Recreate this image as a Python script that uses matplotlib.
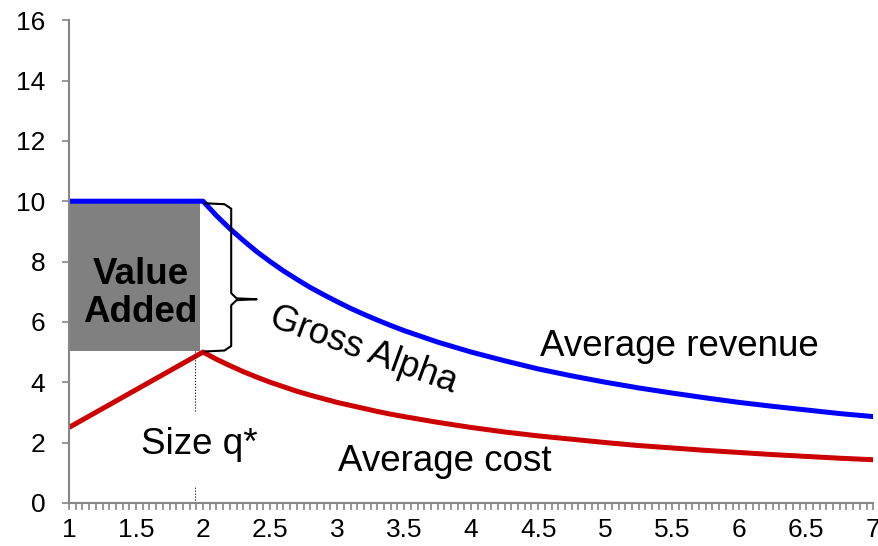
import numpy as np
import matplotlib.pyplot as plt
from matplotlib.patches import Rectangle
from matplotlib.ticker import MultipleLocator

plt.rcParams['font.family'] = ['Liberation Sans', 'DejaVu Sans']

# ── 資料 ──────────────────────────────────────────────────────────────
size = [1.0, 1.5, 2.0, 2.1, 2.2, 2.3, 2.4, 2.5, 2.6, 2.7, 2.8, 2.9, 3.0,
        3.1, 3.2, 3.3, 3.4, 3.5, 3.75, 4.0, 4.25, 4.5, 4.75, 5.0, 5.25,
        5.5, 5.75, 6.0, 6.25, 6.5, 6.75, 7.0]
avg_revenue = [10, 10, 10, 9.52, 9.09, 8.70, 8.33, 8.0, 7.69, 7.41, 7.14,
               6.90, 6.67, 6.45, 6.25, 6.06, 5.88, 5.71, 5.33, 5.0, 4.71,
               4.44, 4.21, 4.0, 3.81, 3.64, 3.48, 3.33, 3.2, 3.08, 2.96, 2.86]
avg_cost = [2.5, 3.75, 5.0, 4.76, 4.55, 4.35, 4.17, 4.0, 3.85, 3.70, 3.57,
            3.45, 3.33, 3.23, 3.13, 3.03, 2.94, 2.86, 2.67, 2.5, 2.35, 2.22,
            2.11, 2.0, 1.9, 1.82, 1.74, 1.67, 1.6, 1.54, 1.48, 1.43]
q_star = 1.94
va_left, va_right = 0.99, 1.98
va_low, va_high = 5.05, 10.0

fig = plt.figure(figsize=(8.79, 5.46), dpi=100)
ax = fig.add_axes([0.0785, 0.079, 0.915, 0.884])

# 灰色 Value Added 區塊
ax.add_patch(Rectangle((va_left, va_low), va_right - va_left, va_high - va_low,
                       facecolor='#808080', edgecolor='none', zorder=1))
ax.text(1.535, 6.95, 'Value\nAdded', ha='center', va='center', fontsize=26.5,
        fontweight='bold', linespacing=1.1, zorder=3)

ax.plot(size, avg_revenue, color='#0000FF', lw=3.6, solid_capstyle='round',
        solid_joinstyle='round', zorder=2)
ax.plot(size, avg_cost, color='#CC0000', lw=3.6, solid_capstyle='round',
        solid_joinstyle='round', zorder=2)

# q* 虛線
ax.plot([q_star, q_star], [va_low, 3.0], color='black', lw=0.8, ls=':')
ax.plot([q_star, q_star], [0, 0.55], color='black', lw=0.8, ls=':')

# Gross Alpha 大括號
bx, tip = 2.21, 6.75
ax.plot([2.02, 2.16, bx, bx, 2.25, 2.40, 2.25, bx, bx, 2.16, 2.02],
        [9.93, 9.9, 9.75, 6.95, 6.78, tip, 6.72, 6.55, 5.2, 5.05, 5.02],
        color='black', lw=1.5, zorder=2)

ax.text(3.2, 5.07, 'Gross Alpha', rotation=-20, ha='center', va='center',
        fontsize=26, rotation_mode='anchor')
ax.text(5.55, 5.2, 'Average revenue', ha='center', va='center', fontsize=26.5)
ax.text(3.80, 1.36, 'Average cost', ha='center', va='center', fontsize=26.5)
ax.text(1.97, 1.95, 'Size q*', ha='center', va='center', fontsize=26.5)

# ── 座標軸 ────────────────────────────────────────────────────────────
ax.set_xlim(1, 7)
ax.set_ylim(0, 16)
ax.xaxis.set_minor_locator(MultipleLocator(0.05))
ax.yaxis.set_major_locator(MultipleLocator(2))
xt = np.arange(1, 7.01, 0.5)
ax.set_xticks(xt)
ax.set_xticklabels([f'{v:g}' for v in xt])
for s in ['top', 'right']:
    ax.spines[s].set_visible(False)
for s in ['left', 'bottom']:
    ax.spines[s].set_color('#868686')
    ax.spines[s].set_linewidth(1.5)
ax.tick_params(axis='both', which='both', color='#868686', width=1.2,
               length=5, direction='out', labelsize=19)
ax.tick_params(axis='x', pad=6)
ax.tick_params(axis='y', pad=12)

fig.savefig('out.png', dpi=100)
